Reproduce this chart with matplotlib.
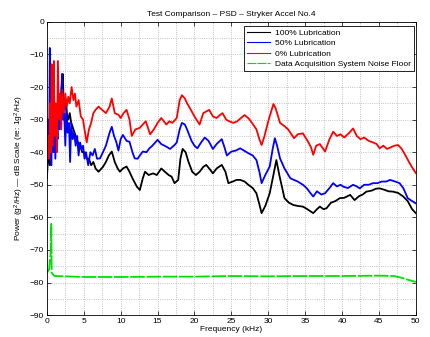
import matplotlib
matplotlib.use('Agg')
import matplotlib.pyplot as plt
import numpy as np

# ------------------- DATA -------------------
# frequency in kHz, PSD in dB re 1 g^2/Hz
f_red = [0.0, 0.15, 0.3, 0.45, 0.55, 0.65, 0.75, 0.85, 0.95, 1.05, 1.2, 1.35, 1.5, 1.65,
         1.8, 1.95, 2.1, 2.3, 2.5, 2.7, 2.9, 3.1, 3.35, 3.6, 3.8, 4.0, 4.3, 4.6, 4.9, 5.1,
         5.4, 5.7, 6.0, 6.3, 6.6, 7.0, 7.5, 8.0, 8.5, 8.8, 9.2, 9.7, 10.0, 10.4, 10.8, 11.2,
         11.5, 12.0, 12.6, 13.0, 13.4, 14.0, 14.5, 15.0, 15.5, 16.2, 16.6, 17.0, 17.6, 18.0,
         18.3, 18.7, 19.0, 19.4, 20.0, 20.7, 21.2, 21.6, 22.0, 22.5, 23.0, 23.5, 23.8, 24.3,
         24.8, 25.3, 25.8, 26.3, 26.8, 27.3, 27.8, 28.4, 28.8, 29.1, 29.5, 30.0, 30.4, 30.7,
         31.0, 31.6, 32.2, 32.7, 33.2, 33.5, 34.0, 34.7, 35.4, 35.8, 36.1, 36.5, 37.0, 37.7,
         38.3, 38.8, 39.3, 39.8, 40.3, 41.0, 41.5, 42.0, 42.5, 43.0, 43.6, 44.2, 44.7, 45.1,
         45.6, 46.1, 46.6, 47.1, 47.6, 48.1, 48.7, 49.2, 49.6, 50.0]
p_red = [-45, -35, -42, -25, -40, -13, -38, -30, -12, -35, -25, -40, -12, -30,
         -22, -33, -21, -28, -22, -26, -23, -25, -20, -24, -22, -26, -24, -29, -30, -33,
         -37, -33, -31, -28, -27, -26, -27, -28, -26, -23.5, -28, -28.5, -29.5, -28, -27, -30,
         -35, -33, -32.5, -31.5, -30.5, -34.5, -33, -31, -29.5, -31.5, -30.5, -31, -29.5, -24,
         -22.5, -23.5, -25, -26.5, -29, -31.5, -28, -27.5, -27, -29, -29.5, -28.5, -28, -30,
         -30.6, -31, -30.5, -29.5, -28.6, -29.5, -31, -33, -36, -37.8, -35, -30.5, -27.5, -25.2,
         -26.5, -31, -32, -33, -34.7, -35.7, -34.5, -34.2, -36.8, -38.5, -40.8, -38, -37.5, -39.8,
         -36, -33.7, -35, -34.5, -35.5, -34, -32.7, -35, -36, -35.5, -36.5, -37, -37.5, -38.8,
         -38, -39, -38.5, -38, -37.8, -39, -41.4, -43.5, -45, -46.4]

f_blue = [0.0, 0.15, 0.3, 0.4, 0.5, 0.6, 0.75, 0.9, 1.0, 1.15, 1.3, 1.45, 1.6, 1.75, 1.9,
          2.05, 2.2, 2.35, 2.5, 2.65, 2.8, 3.0, 3.15, 3.3, 3.5, 3.7, 3.9, 4.1, 4.3, 4.5,
          4.7, 4.9, 5.1, 5.3, 5.6, 5.9, 6.2, 6.5, 6.8, 7.2, 7.6, 8.0, 8.5, 8.8, 9.1, 9.4,
          9.7, 10.0, 10.3, 10.8, 11.2, 11.6, 11.9, 12.3, 12.6, 13.0, 13.5, 13.9, 14.3, 15.0,
          15.5, 16.2, 16.7, 17.3, 17.6, 18.0, 18.3, 18.7, 19.0, 19.6, 20.0, 20.4, 20.9, 21.4,
          21.9, 22.5, 23.0, 23.7, 24.0, 24.4, 25.0, 25.6, 26.2, 26.7, 27.3, 27.9, 28.4, 28.8,
          29.1, 29.6, 30.2, 30.6, 30.9, 31.2, 31.6, 32.2, 32.6, 33.0, 33.5, 34.0, 34.7, 35.2,
          35.7, 36.1, 36.6, 37.2, 37.7, 38.3, 38.8, 39.3, 39.8, 40.2, 40.8, 41.5, 42.0, 42.4,
          43.0, 43.6, 44.2, 44.8, 45.4, 46.0, 46.5, 47.2, 47.8, 48.3, 48.9, 49.5, 50.0]
p_blue = [-48, -30, -42, -8, -35, -44, -30, -40, -28, -42, -30, -36, -25, -33, -26,
          -16, -30, -28, -38, -26, -34, -31, -43, -31, -36, -34, -38, -35, -41, -37,
          -39, -38, -42, -40, -44, -40, -41, -39, -42, -41.9, -40, -38, -34, -32.2, -35, -36.8,
          -39.5, -36, -34.7, -36.5, -36.8, -40, -41.9, -42, -41, -39.8, -40, -38.8, -38, -36.2,
          -37.5, -38.3, -39, -37.8, -37, -33, -31, -31.5, -33, -36.5, -38, -38.8, -37, -35.5,
          -36.5, -39, -37.5, -36, -38, -41, -39.8, -39.5, -38.8, -39.5, -40.3, -41, -42.4, -46,
          -49.5, -47, -44.4, -39, -35.7, -38, -41.9, -45, -46.5, -48, -48.5, -49, -50, -51,
          -52.5, -53.6, -52, -53, -52.6, -51, -49.5, -50.5, -50, -50.6, -51, -50, -50.5, -51.1,
          -50, -50, -49.5, -49.5, -49, -49, -48.5, -49, -49.5, -51, -54.1, -55, -55.7]

f_black = [0.0, 0.2, 0.4, 0.6, 0.8, 1.0, 1.2, 1.4, 1.6, 1.8, 2.0, 2.15, 2.3, 2.5, 2.7,
           2.9, 3.1, 3.3, 3.6, 3.9, 4.2, 4.5, 4.8, 5.1, 5.4, 5.7, 6.0, 6.3, 6.6, 7.0, 7.2,
           7.6, 8.0, 8.4, 8.8, 9.2, 9.6, 9.9, 10.3, 10.8, 11.2, 11.6, 12.2, 12.6, 13.0, 13.3,
           13.8, 14.4, 14.9, 15.5, 16.0, 16.5, 16.9, 17.3, 17.8, 18.1, 18.4, 18.8, 19.2, 19.7,
           20.2, 20.7, 21.2, 21.6, 22.0, 22.5, 23.0, 23.7, 24.2, 24.6, 25.2, 25.7, 26.2, 26.8,
           27.3, 27.9, 28.4, 28.8, 29.1, 29.6, 30.2, 30.7, 31.1, 31.5, 32.2, 32.8, 33.4, 34.0,
           34.7, 35.3, 36.1, 36.6, 37.0, 37.5, 37.9, 38.5, 39.1, 39.7, 40.3, 41.1, 41.7, 42.3,
           42.8, 43.3, 44.0, 44.6, 45.1, 45.7, 46.3, 46.9, 47.6, 48.3, 48.9, 49.5, 50.0]
p_black = [-48, -40, -44, -36, -38, -33, -30, -31, -27, -28, -20, -16, -26, -24, -28,
           -30, -28, -31, -33, -35, -37, -38, -40, -40, -42, -42, -44, -43, -45, -46, -45.5,
           -44.5, -43, -41, -39.8, -43, -45, -46, -45, -44.4, -46, -48, -50.6, -51.6, -48, -46,
           -47, -46.5, -47, -45, -46, -47, -47.5, -49.5, -48.5, -42, -39, -40, -43, -46,
           -47, -46, -44.5, -43.9, -45, -46.5, -45, -43.9, -46, -49.5, -49, -48.5, -48.5, -49,
           -50, -51, -52.6, -56, -58.7, -56.5, -52.6, -47, -42.4, -47, -54.1, -55.5, -56.2, -56.5,
           -56.7, -57.5, -58.7, -57.5, -56.7, -57.5, -57.2, -55.5, -55, -54.1, -54, -53.1, -54.7, -53.5,
           -53, -52.1, -51.8, -51.2, -51.1, -51.5, -52, -52.1, -52.5, -53.6, -55, -57.5, -58.7]

f_green = [0.0, 0.3, 0.55, 0.6, 0.65, 1.0, 5.0, 10.0, 15.0, 20.0, 25.0, 30.0, 35.0, 40.0,
           45.0, 47.0, 48.0, 49.0, 50.0]
p_green = [-77, -76, -70, -62, -77, -78, -78.3, -78.3, -78.2, -78.2, -78, -78.1, -78, -78,
           -77.9, -78, -78.5, -79.2, -79.8]

labels = ['100% Lubrication', '50% Lubrication', '0% Lubrication',
          'Data Acquisition System Noise Floor']

# ------------------- PLOT -------------------
plt.rcParams['font.family'] = ['Liberation Sans', 'DejaVu Sans']
plt.rcParams['mathtext.fontset'] = 'custom'
plt.rcParams['mathtext.rm'] = 'Liberation Sans'
plt.rcParams['mathtext.it'] = 'Liberation Sans:italic'

fs = 6

fig = plt.figure(figsize=(4.30, 3.37), dpi=100)
ax = fig.add_axes([0.109, 0.065, 0.858, 0.870])

ax.plot(f_black, p_black, color='k', lw=1.3, label=labels[0])
ax.plot(f_blue, p_blue, color='b', lw=1.3, label=labels[1])
ax.plot(f_red, p_red, color='r', lw=1.3, label=labels[2])
ax.plot(f_green, p_green, color='#00e000', lw=1.3, ls=(0, (8, 1)), label=labels[3])

ax.set_xlim(0, 50)
ax.set_ylim(-90, 0)
ax.set_xticks(np.arange(0, 51, 5))
ax.set_yticks(np.arange(-90, 1, 10))
ax.set_xticks(np.arange(0, 51, 2.5), minor=True)
ax.set_yticks(np.arange(-90, 1, 5), minor=True)
ax.grid(True, which='both', ls=':', color='#b0b0b0', lw=0.6)
ax.tick_params(which='major', direction='in', length=3, width=0.5, labelsize=fs,
               top=True, right=True, pad=2)
ax.tick_params(which='minor', length=0)
for s in ax.spines.values():
    s.set_linewidth(0.6)

ax.set_title('Test Comparison \u2013 PSD \u2013 Stryker Accel No.4', fontsize=fs, pad=4)
ax.set_xlabel('Frequency (kHz)', fontsize=fs, labelpad=1)
ax.set_ylabel('Power (g$^2$/Hz) \u2014 dB Scale (re: 1g$^2$/Hz)', fontsize=fs, labelpad=3)

leg = ax.legend(loc='upper right', bbox_to_anchor=(0.995, 0.985), borderaxespad=0,
                fontsize=fs, fancybox=False, framealpha=1, edgecolor='k',
                handlelength=2.8, handletextpad=0.6, borderpad=0.35, labelspacing=0.3)
leg.get_frame().set_linewidth(0.6)
for h in leg.get_lines():
    h.set_linewidth(0.8)

fig.savefig('out.png', dpi=100)
